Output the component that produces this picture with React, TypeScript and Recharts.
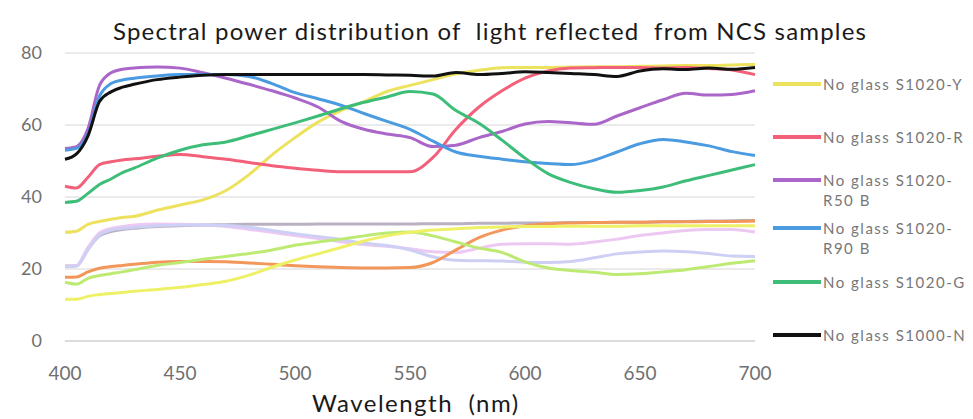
import React from "react";
import { LineChart, Line, XAxis, YAxis, CartesianGrid } from "recharts";

const WAVELENGTHS = [
  400, 405, 410, 415, 420, 425, 430, 440, 450, 460, 470, 480, 490, 500, 510, 520, 530,
  540, 550, 560, 570, 580, 590, 600, 610, 620, 630, 640, 650, 660, 670, 680, 690, 700,
];

// saturated "No glass" curves
const NG_Y = [
  30.2, 30.5, 32.4, 33.2, 33.8, 34.3, 34.6, 36.3, 37.8, 39.2, 41.8, 46.2, 51.7, 56.5, 60.8,
  64, 66.5, 69.3, 71, 72.6, 74.2, 75.2, 75.9, 76, 76, 76.1, 76.2, 76.2, 76.3, 76.4, 76.5,
  76.5, 76.7, 76.8,
];
const NG_R = [
  43, 42.5, 45.5, 49, 49.8, 50.3, 50.6, 51.3, 51.8, 51.2, 50.5, 49.6, 48.7, 48, 47.4, 47,
  47, 47, 47, 51, 58.8, 65, 69.5, 73, 75, 75.8, 75.9, 76, 76, 75.8, 76, 75.7, 75.3, 74,
];
const NG_R50B = [
  53.5, 54, 59, 71, 74.5, 75.5, 75.8, 76.1, 75.8, 74.5, 73, 71.3, 69.5, 67.5, 65, 61, 58.8,
  57.5, 56.5, 54, 54.4, 56.5, 58.2, 60.3, 61, 60.6, 60.2, 62.5, 64.8, 67, 68.8, 68.3, 68.5,
  69.5,
];
const NG_R90B = [
  53, 53.5, 57.5, 68, 71.5, 72.5, 73, 73.6, 74, 74, 74, 73.5, 71.5, 69, 67.3, 65.5, 63.2,
  61, 58.8, 55.5, 52.5, 51.3, 50.5, 49.8, 49.3, 49, 50.2, 52.5, 54.8, 56, 55.3, 54.2, 52.6,
  51.5,
];
const NG_G = [
  38.5, 38.8, 41, 43.5, 45, 46.8, 48, 50.8, 53, 54.5, 55.3, 57, 58.8, 60.6, 62.5, 64.5,
  66.3, 67.8, 69.3, 68.6, 64, 60.5, 55.8, 50.8, 46.5, 44, 42.3, 41.3, 41.8, 42.8, 44.5, 46,
  47.5, 49,
];
const NG_N = [
  50.5, 52, 57, 66.5, 69.2, 70.5, 71.3, 72.6, 73.3, 73.8, 74, 74, 74, 74, 74, 74, 74, 73.9,
  73.8, 73.6, 74.6, 74, 74.3, 74.8, 74.6, 74.3, 74, 73.5, 75, 75.6, 75.4, 75.8, 75.5, 76,
];

// pale curves (no legend entry)
const G_Y = [
  11.6, 11.6, 12.4, 12.9, 13.2, 13.5, 13.8, 14.3, 14.9, 15.7, 16.6, 18.3, 20.5, 22.5, 24.2,
  26, 27.8, 29.2, 30.2, 30.8, 31.2, 31.5, 31.7, 31.8, 31.8, 31.9, 31.9, 31.9, 32, 32, 32,
  32, 32, 32,
];
const G_R = [
  17.7, 17.8, 19.2, 20.2, 20.7, 21, 21.3, 21.9, 22.1, 22.1, 22, 21.7, 21.3, 20.9, 20.6,
  20.4, 20.3, 20.3, 20.4, 21.8, 25.3, 28.7, 30.8, 32, 32.6, 32.8, 32.9, 33, 33, 33.1, 33.1,
  33.2, 33.2, 33.3,
];
const G_R50B = [
  20.8, 21, 26, 30, 31.3, 31.8, 32.2, 32.5, 32.4, 32.2, 31.8, 31, 30.2, 29.3, 28.5, 27.6,
  26.8, 26.3, 25.6, 24.8, 24.6, 25.8, 26.9, 27, 27, 26.9, 27.5, 28.3, 29.3, 30, 30.7, 31,
  31, 30.3,
];
const G_R90B = [
  20.6, 20.8, 25.3, 29.5, 30.8, 31.3, 31.6, 32, 32.2, 32.2, 32.1, 31.6, 30.7, 29.8, 29,
  28.2, 27.2, 26.5, 25.3, 23.4, 22.4, 22.3, 22.2, 21.9, 21.8, 22.1, 23.1, 24.2, 24.7, 25,
  24.8, 24.3, 23.6, 23.5,
];
const G_G = [
  16.3, 15.8, 17.4, 18.2, 18.7, 19.2, 19.8, 21, 21.8, 22.7, 23.5, 24.3, 25.3, 26.6, 27.5,
  28.3, 29.2, 30, 30.3, 29.2, 27.5, 25.8, 24.6, 22, 20.3, 19.6, 19.1, 18.5, 18.7, 19.2, 19.8,
  20.7, 21.6, 22.3,
];
const G_N = [
  20.8, 20.9, 25.5, 29.2, 30.4, 31, 31.3, 31.8, 32, 32.2, 32.3, 32.4, 32.4, 32.4, 32.5,
  32.5, 32.5, 32.5, 32.5, 32.6, 32.6, 32.7, 32.7, 32.8, 32.8, 32.9, 32.9, 33, 33, 33.1, 33.2,
  33.3, 33.4, 33.5,
];

const X_TICKS = [400, 450, 500, 550, 600, 650, 700];
const Y_TICKS = [0, 20, 40, 60, 80];

const PALE = [
  { key: "gN", values: G_N, color: "#b9b0c2" },
  { key: "gR50B", values: G_R50B, color: "#ecc8f2" },
  { key: "gR90B", values: G_R90B, color: "#cdd0f4" },
  { key: "gR", values: G_R, color: "#f2965a" },
  { key: "gG", values: G_G, color: "#bdea72" },
  { key: "gY", values: G_Y, color: "#eef066" },
];

const MAIN = [
  { key: "Y", name: ["No glass S1020-Y"], values: NG_Y, color: "#ece25e" },
  { key: "R", name: ["No glass S1020-R"], values: NG_R, color: "#f2607a" },
  { key: "R50B", name: ["No glass S1020-", "R50 B"], values: NG_R50B, color: "#aa66c8" },
  { key: "R90B", name: ["No glass S1020-", "R90 B"], values: NG_R90B, color: "#4b9be0" },
  { key: "G", name: ["No glass S1020-G"], values: NG_G, color: "#3dbd78" },
  { key: "N", name: ["No glass S1000-N"], values: NG_N, color: "#111111" },
];

const data = WAVELENGTHS.map((w, i) => {
  const row: Record<string, number> = { w };
  [...PALE, ...MAIN].forEach((s) => {
    row[s.key] = s.values[i];
  });
  return row;
});

const LEGEND_TOPS = [84, 137, 180, 228, 282, 335];
const FONT = "Lato, 'Open Sans', sans-serif";

export default function App() {
  return (
    <div style={{ position: "absolute", left: 0, top: 0, width: 973, height: 419, background: "#fff", fontFamily: FONT }}>
      <div
        style={{
          position: "absolute", left: 113, top: 16, fontSize: 24, letterSpacing: 1.2,
          color: "#1a1a1a", whiteSpace: "pre",
        }}
      >
        Spectral power distribution of  light reflected  from NCS samples
      </div>
      <LineChart width={973} height={419} data={data} margin={{ top: 53, right: 218, left: 15, bottom: 18 }}>
        <CartesianGrid horizontal vertical={false} stroke="#d6d6d6" />
        <XAxis
          dataKey="w"
          type="number"
          domain={[400, 700]}
          ticks={X_TICKS}
          axisLine={{ stroke: "#cccccc" }}
          tickLine={false}
          height={60}
          tickMargin={20}
          tick={{ fontSize: 19, fill: "#707070", fontFamily: FONT }}
        />
        <YAxis
          domain={[0, 80]}
          ticks={Y_TICKS}
          axisLine={false}
          tickLine={false}
          width={50}
          tickMargin={17}
          tick={{ fontSize: 18, fill: "#707070", fontFamily: FONT }}
        />
        {PALE.map((s) => (
          <Line key={s.key} dataKey={s.key} type="monotone" stroke={s.color} strokeWidth={3} dot={false} isAnimationActive={false} />
        ))}
        {MAIN.map((s) => (
          <Line key={s.key} dataKey={s.key} type="monotone" stroke={s.color} strokeWidth={3} dot={false} isAnimationActive={false} />
        ))}
      </LineChart>
      <div style={{ position: "absolute", left: 312, top: 388, fontSize: 24, letterSpacing: 1.5, color: "#1a1a1a", whiteSpace: "pre" }}>
        Wavelength  (nm)
      </div>
      {MAIN.map((s, i) => (
        <div key={s.key} style={{ position: "absolute", left: 773, top: LEGEND_TOPS[i] - 10 }}>
          <div style={{ position: "absolute", left: 0, top: 8, width: 48, height: 4, background: s.color }} />
          <div
            style={{
              position: "absolute", left: 50, top: 0, fontSize: 15, lineHeight: "20px",
              letterSpacing: 1.5, color: "#777", whiteSpace: "nowrap",
            }}
          >
            {s.name.map((t, j) => (
              <div key={j}>{t}</div>
            ))}
          </div>
        </div>
      ))}
    </div>
  );
}
